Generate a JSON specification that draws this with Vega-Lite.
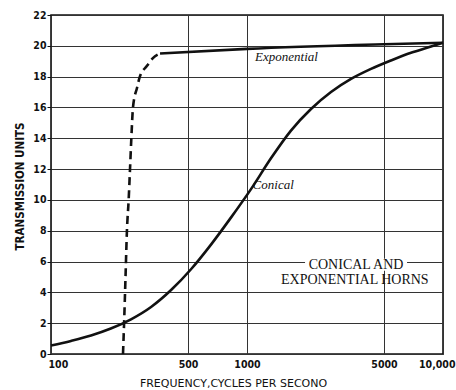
{
  "$schema": "https://vega.github.io/schema/vega-lite/v6.json",
  "autosize": {"type": "none"},
  "padding": {"left": 51, "top": 15, "right": 13, "bottom": 36},
  "width": 392,
  "height": 339,
  "background": "white",
  "config": {
    "view": {"stroke": "#111", "strokeWidth": 1.6},
    "axis": {
      "gridColor": "#333",
      "gridWidth": 1,
      "gridOpacity": 1,
      "domain": false,
      "tickColor": "#111",
      "labelColor": "#111",
      "labelFont": "DejaVu Sans Condensed, DejaVu Sans",
      "labelFontWeight": "bold",
      "labelFontSize": 10.5,
      "labelOverlap": false,
      "titleColor": "#111"
    }
  },
  "datasets": {
    "curves": [
      {"freq": 100, "units": 0.55, "curve": "Conical"},
      {"freq": 126.5, "units": 0.85, "curve": "Conical"},
      {"freq": 160, "units": 1.2, "curve": "Conical"},
      {"freq": 202, "units": 1.65, "curve": "Conical"},
      {"freq": 256, "units": 2.25, "curve": "Conical"},
      {"freq": 324, "units": 3.05, "curve": "Conical"},
      {"freq": 410, "units": 4.15, "curve": "Conical"},
      {"freq": 518, "units": 5.5, "curve": "Conical"},
      {"freq": 655, "units": 7.1, "curve": "Conical"},
      {"freq": 828, "units": 8.85, "curve": "Conical"},
      {"freq": 1048, "units": 10.7, "curve": "Conical"},
      {"freq": 1325, "units": 12.7, "curve": "Conical"},
      {"freq": 1676, "units": 14.5, "curve": "Conical"},
      {"freq": 2121, "units": 15.9, "curve": "Conical"},
      {"freq": 2683, "units": 17.0, "curve": "Conical"},
      {"freq": 3394, "units": 17.85, "curve": "Conical"},
      {"freq": 4292, "units": 18.5, "curve": "Conical"},
      {"freq": 5429, "units": 19.05, "curve": "Conical"},
      {"freq": 6867, "units": 19.55, "curve": "Conical"},
      {"freq": 8686, "units": 19.95, "curve": "Conical"},
      {"freq": 10000, "units": 20.2, "curve": "Conical"},
      {"freq": 233, "units": 0, "curve": "ExpDashed"},
      {"freq": 236, "units": 2, "curve": "ExpDashed"},
      {"freq": 240, "units": 5, "curve": "ExpDashed"},
      {"freq": 244, "units": 8, "curve": "ExpDashed"},
      {"freq": 249, "units": 10, "curve": "ExpDashed"},
      {"freq": 253, "units": 12, "curve": "ExpDashed"},
      {"freq": 257, "units": 14, "curve": "ExpDashed"},
      {"freq": 262, "units": 16, "curve": "ExpDashed"},
      {"freq": 275, "units": 17.3, "curve": "ExpDashed"},
      {"freq": 284, "units": 18.0, "curve": "ExpDashed"},
      {"freq": 309, "units": 18.7, "curve": "ExpDashed"},
      {"freq": 331, "units": 19.2, "curve": "ExpDashed"},
      {"freq": 360, "units": 19.5, "curve": "ExpDashed"},
      {"freq": 360, "units": 19.5, "curve": "ExpSolid"},
      {"freq": 1000, "units": 19.8, "curve": "ExpSolid"},
      {"freq": 5000, "units": 20.1, "curve": "ExpSolid"},
      {"freq": 10000, "units": 20.2, "curve": "ExpSolid"}
    ],
    "notes": [
      {"freq": 1100, "units": 19.3, "label": "Exponential"},
      {"freq": 1068, "units": 11.0, "label": "Conical"}
    ],
    "titles": [
      {"freq": 3600, "units": 5.8, "label": "CONICAL AND"},
      {"freq": 3550, "units": 4.78, "label": "EXPONENTIAL HORNS"}
    ]
  },
  "layer": [
    {
      "data": {"name": "curves"},
      "transform": [{"filter": "datum.curve === 'Conical'"}],
      "mark": {"type": "line", "color": "#111", "strokeWidth": 2.6, "interpolate": "monotone"},
      "encoding": {
        "x": {
          "field": "freq", "type": "quantitative",
          "scale": {"type": "log", "domain": [100, 10000]},
          "axis": {
            "values": [100, 500, 1000, 5000, 10000],
            "tickCount": 10,
            "labelExpr": "datum.value == 10000 ? '10,000' : format(datum.value, 'd')",
            "labelAlign": {"condition": [{"test": "datum.value <= 100", "value": "left"}, {"test": "datum.value >= 10000", "value": "right"}], "value": "center"},
            "labelOffset": {"condition": [{"test": "datum.value <= 100", "value": -3}, {"test": "datum.value >= 10000", "value": 12}], "value": 0},
            "labelFlush": false,
            "tickSize": 0,
            "labelPadding": 5,
            "title": "FREQUENCY,CYCLES PER SECONO",
            "titleFont": "DejaVu Sans",
            "titleFontWeight": "normal",
            "titleFontSize": 11,
            "titleX": 182,
            "titleY": 29,
            "titleBaseline": "middle"
          }
        },
        "y": {
          "field": "units", "type": "quantitative",
          "scale": {"domain": [0, 22]},
          "axis": {
            "values": [0, 2, 4, 6, 8, 10, 12, 14, 16, 18, 20, 22],
            "tickCount": 24,
            "tickSize": 4,
            "labelPadding": 1,
            "title": "TRANSMISSION UNITS",
            "titleFont": "DejaVu Sans Condensed, DejaVu Sans",
            "titleFontWeight": "bold",
            "titleFontSize": 11.5,
            "titleX": -31,
            "titleY": 171,
            "titleAngle": -90,
            "titleAlign": "center",
            "titleBaseline": "middle"
          }
        }
      }
    },
    {
      "data": {"name": "curves"},
      "transform": [{"filter": "datum.curve === 'ExpDashed'"}],
      "mark": {"type": "line", "color": "#111", "strokeWidth": 2.6, "strokeDash": [8, 5], "interpolate": "monotone"},
      "encoding": {
        "x": {"field": "freq", "type": "quantitative"},
        "y": {"field": "units", "type": "quantitative"}
      }
    },
    {
      "data": {"name": "curves"},
      "transform": [{"filter": "datum.curve === 'ExpSolid'"}],
      "mark": {"type": "line", "color": "#111", "strokeWidth": 2.6, "interpolate": "monotone"},
      "encoding": {
        "x": {"field": "freq", "type": "quantitative"},
        "y": {"field": "units", "type": "quantitative"}
      }
    },
    {
      "data": {"name": "notes"},
      "mark": {"type": "text", "align": "left", "baseline": "middle", "font": "Liberation Serif", "fontStyle": "italic", "fontSize": 13, "color": "#111"},
      "encoding": {
        "x": {"field": "freq", "type": "quantitative"},
        "y": {"field": "units", "type": "quantitative"},
        "text": {"field": "label"}
      }
    },
    {
      "data": {"name": "titles"},
      "transform": [{"filter": "datum.label === 'CONICAL AND'"}],
      "mark": {"type": "rect", "color": "white", "width": 102, "height": 12},
      "encoding": {
        "x": {"field": "freq", "type": "quantitative"},
        "y": {"field": "units", "type": "quantitative"}
      }
    },
    {
      "data": {"name": "titles"},
      "mark": {"type": "text", "align": "center", "baseline": "middle", "font": "Liberation Serif", "fontSize": 14, "color": "#111"},
      "encoding": {
        "x": {"field": "freq", "type": "quantitative"},
        "y": {"field": "units", "type": "quantitative"},
        "text": {"field": "label"}
      }
    }
  ]
}
